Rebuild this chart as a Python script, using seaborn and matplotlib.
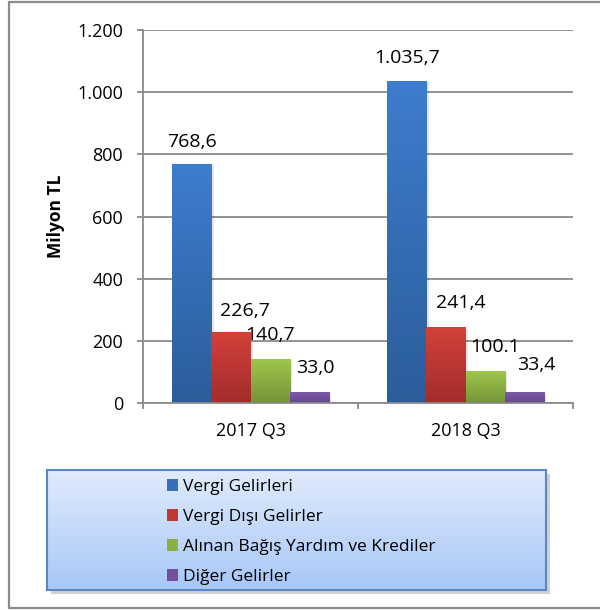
import numpy as np
import pandas as pd
import matplotlib
matplotlib.use("Agg")
import matplotlib.pyplot as plt
import seaborn as sns
from matplotlib.patches import Rectangle
from matplotlib.lines import Line2D
from matplotlib.colors import LinearSegmentedColormap

# ---------------- data ----------------
periods = ["2017 Q3", "2018 Q3"]
series = ["Vergi Gelirleri", "Vergi Dışı Gelirler",
          "Alınan Bağış Yardım ve Krediler", "Diğer Gelirler"]
vergi_gelirleri = [768.6, 1035.7]
vergi_disi_gelirler = [226.7, 241.4]
bagis_yardim_krediler = [140.7, 100.1]
diger_gelirler = [33.0, 33.4]
value_labels = [["768,6", "1.035,7"],
                ["226,7", "241,4"],
                ["140,7", "100.1"],
                ["33,0", "33,4"]]
y_ticks = [0, 200, 400, 600, 800, 1000, 1200]
y_tick_labels = ["0", "200", "400", "600", "800", "1.000", "1.200"]
y_title = "Milyon TL"

# ---------------- styling ----------------
top_colors = ["#3d7dcd", "#d3403a", "#9ec64b", "#7e59aa"]
bottom_colors = ["#2c5d9b", "#a22d2a", "#74943a", "#62488b"]
mid_colors = ["#3670b8", "#c0392f", "#8aaf42", "#71519c"]
# label offsets (pixels) relative to bar top-centre, per series x period
lab_dx = [[0, 0], [14, 15], [0, 10], [6, 12]]
lab_dy = [[22, 23], [22, 25], [24, 25], [25, 28]]
grid_col = "#8a8a8a"
txt_col = "#000000"

sns.set_theme(style="white")
plt.rcParams["font.family"] = ["Open Sans", "DejaVu Sans"]

W, H, DPI = 600, 610, 100
fig = plt.figure(figsize=(W / DPI, H / DPI), dpi=DPI)
fig.patch.set_facecolor("white")

ax = fig.add_axes([143 / W, 1 - 403 / H, 430 / W, 373 / H])
ax.patch.set_alpha(0)

values = [vergi_gelirleri, vergi_disi_gelirler, bagis_yardim_krediler, diger_gelirler]
df = pd.DataFrame({
    "period": [p for s in series for p in periods],
    "series": [s for s in series for p in periods],
    "value": [v for vals in values for v in vals],
})

sns.barplot(data=df, x="period", y="value", hue="series", order=periods,
            hue_order=series, palette=mid_colors, saturation=1, width=0.73,
            edgecolor="none", linewidth=0, legend=False, ax=ax, zorder=3)

px2pt = 72 / DPI
for si, cont in enumerate(ax.containers):
    cmap = LinearSegmentedColormap.from_list("g", [bottom_colors[si], top_colors[si]])
    for pi, bar in enumerate(cont):
        x, y0 = bar.get_x(), bar.get_y()
        w, h = bar.get_width(), bar.get_height()
        grad = np.linspace(0, 1, 64).reshape(-1, 1)
        # soft shadow
        ax.add_patch(Rectangle((x + w * 0.06, y0), w, h - 4, facecolor="#000000",
                               alpha=0.10, zorder=2, linewidth=0))
        ax.imshow(grad, extent=[x, x + w, y0, y0 + h], origin="lower",
                  aspect="auto", cmap=cmap, zorder=3.5, interpolation="bicubic")
        ax.annotate(value_labels[si][pi], (x + w / 2, y0 + h),
                    xytext=(lab_dx[si][pi] * px2pt, lab_dy[si][pi] * px2pt),
                    textcoords="offset points", ha="center", va="center",
                    fontsize=14, color=txt_col, zorder=5)

ax.set_xlim(-0.5, 1.5)
ax.set_ylim(0, 1200)
ax.set_yticks(y_ticks)
ax.set_yticklabels(y_tick_labels)
ax.yaxis.grid(True, color=grid_col, linewidth=1.3)
ax.xaxis.grid(False)
ax.set_axisbelow(True)

# category ticks: major at boundaries (marks), minor at centres (labels)
ax.set_xticks([-0.5, 0.5, 1.5])
ax.set_xticklabels(["", "", ""])
ax.set_xticks([0, 1], minor=True)
ax.set_xticklabels(periods, minor=True)
ax.tick_params(axis="x", which="major", direction="out", length=6 * px2pt,
               width=1.3, color=grid_col, bottom=True)
ax.tick_params(axis="x", which="minor", length=0, pad=14, labelsize=13,
               labelcolor=txt_col, bottom=True)
ax.tick_params(axis="y", direction="out", length=6 * px2pt, width=1.3,
               color=grid_col, pad=10, labelsize=13, labelcolor=txt_col, left=True)
ax.set_xlabel("")
ax.set_ylabel(y_title, fontsize=12.5, fontweight="bold", color=txt_col)
ax.yaxis.label.set_va("center")
ax.yaxis.set_label_coords((56 - 143) / 430, (403 - 216) / 373)

for s in ["top", "right"]:
    ax.spines[s].set_visible(False)
for s in ["left", "bottom"]:
    ax.spines[s].set_color(grid_col)
    ax.spines[s].set_linewidth(1.3)
    ax.spines[s].set_zorder(6)

# ---------------- legend box ----------------
lx0, ly0, lx1, ly1 = 47, 470, 546, 590
shadow = Rectangle(((lx0 + 4) / W, 1 - (ly1 + 4) / H), (lx1 - lx0) / W, (ly1 - ly0) / H,
                   transform=fig.transFigure, facecolor="#000000", alpha=0.18,
                   linewidth=0, zorder=-1)
fig.patches.append(shadow)
lax = fig.add_axes([lx0 / W, 1 - ly1 / H, (lx1 - lx0) / W, (ly1 - ly0) / H], zorder=2)
lcmap = LinearSegmentedColormap.from_list("lg", ["#a8c7f7", "#e0ebfc"])
lax.imshow(np.linspace(0, 1, 64).reshape(-1, 1), extent=[0, 1, 0, 1],
           origin="lower", aspect="auto", cmap=lcmap)
lax.set_xlim(0, 1)
lax.set_ylim(0, 1)
lax.set_xticks([])
lax.set_yticks([])
for s in lax.spines.values():
    s.set_color("#5b87c4")
    s.set_linewidth(1.5)
handles = [Rectangle((0, 0), 1, 1, facecolor=c, edgecolor="none") for c in mid_colors]
lax.legend(handles, series, loc="upper left",
           bbox_to_anchor=((167 - lx0) / (lx1 - lx0), 0.925),
           frameon=False, fontsize=12.5, handlelength=0.63, handleheight=0.63,
           handletextpad=0.28, labelspacing=0.81, borderpad=0, borderaxespad=0,
           labelcolor=txt_col)

# ---------------- outer frame ----------------
fc = "#8c8c8c"
fig.lines.append(Line2D([9 / W, 9 / W], [1 - 2 / H, 1 - 608 / H], transform=fig.transFigure,
                        color=fc, linewidth=1.6))
fig.lines.append(Line2D([9 / W, 1.0], [1 - 2 / H, 1 - 2 / H], transform=fig.transFigure,
                        color=fc, linewidth=1.6))
fig.lines.append(Line2D([9 / W, 1.0], [1 - 608 / H, 1 - 608 / H], transform=fig.transFigure,
                        color=fc, linewidth=1.6))

fig.savefig("out.png", dpi=DPI)
